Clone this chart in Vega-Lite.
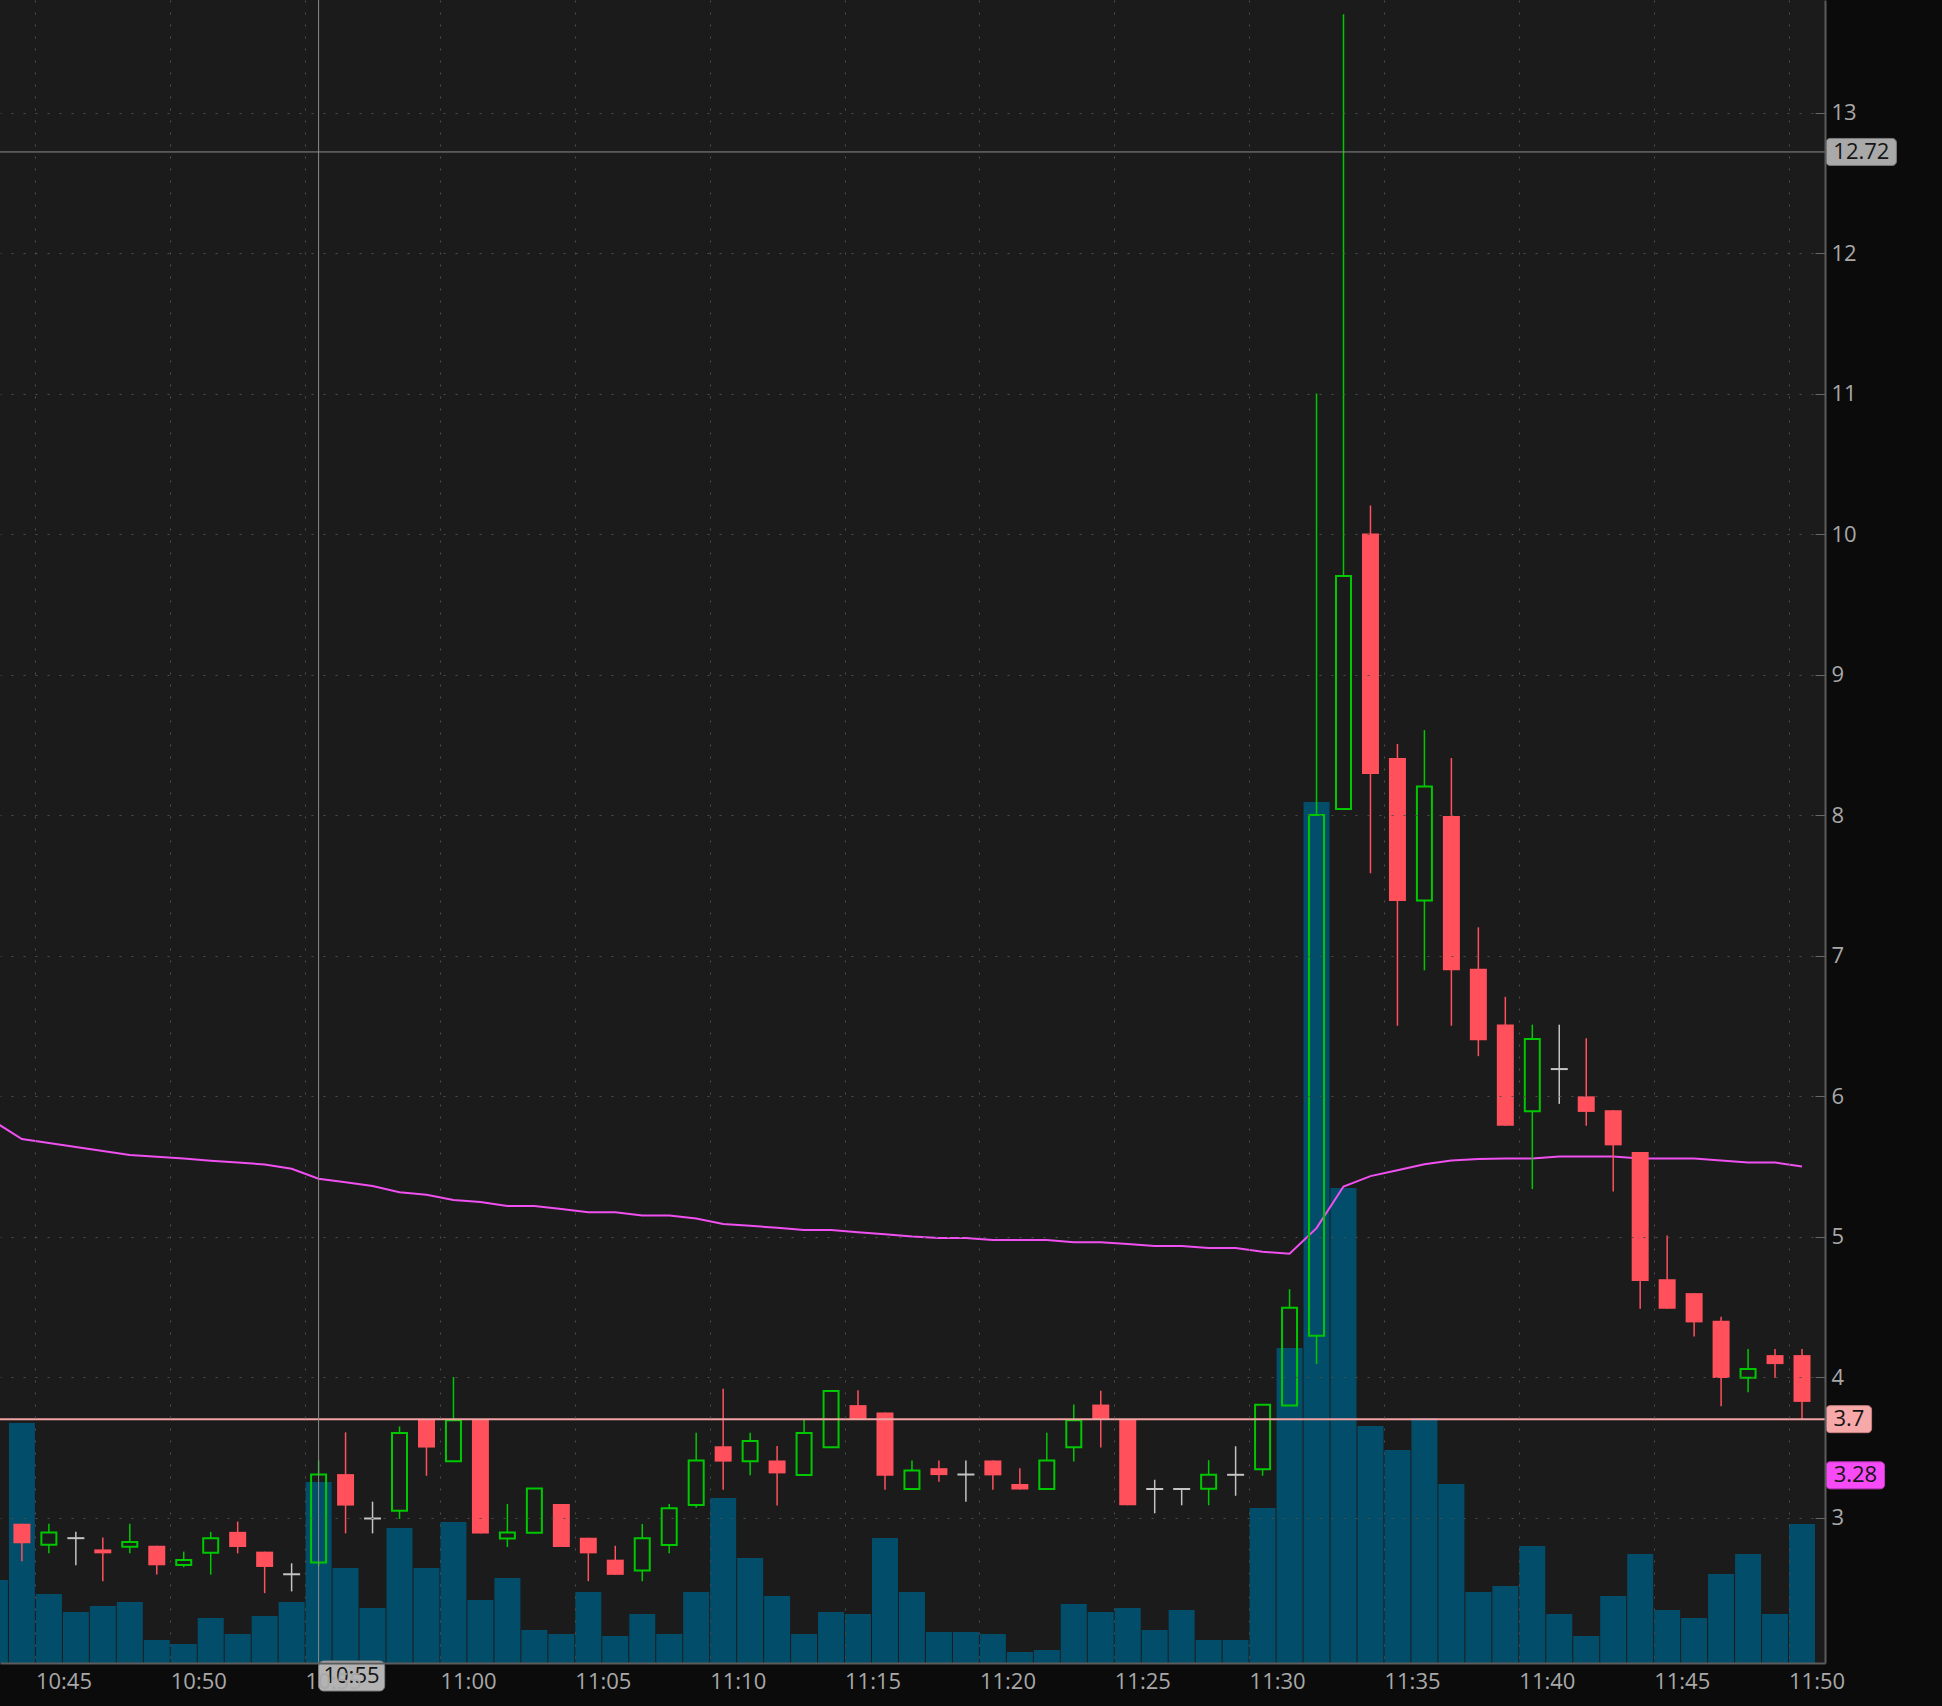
{
  "$schema": "https://vega.github.io/schema/vega-lite/v6.json",
  "width": 1825,
  "height": 1663,
  "autosize": {"type": "none"},
  "padding": {"left": 0, "top": 0, "right": 117, "bottom": 43},
  "background": "#0b0b0b",
  "config": {"view": {"fill": "#1b1b1b", "stroke": null}},
  "datasets": {
    "bars": [
      {"t":43,"vol":83,"vwap":5.815},
      {"t":44,"open":2.955,"high":2.955,"low":2.688,"close":2.816,"vol":240,"vwap":5.694},
      {"t":45,"open":2.806,"high":2.955,"low":2.745,"close":2.894,"vol":69,"vwap":5.666},
      {"t":46,"open":2.853,"high":2.898,"low":2.66,"close":2.853,"vol":51,"vwap":5.637},
      {"t":47,"open":2.773,"high":2.858,"low":2.547,"close":2.745,"vol":57,"vwap":5.609},
      {"t":48,"open":2.792,"high":2.955,"low":2.745,"close":2.825,"vol":61,"vwap":5.581},
      {"t":49,"open":2.799,"high":2.799,"low":2.594,"close":2.66,"vol":23,"vwap":5.568},
      {"t":50,"open":2.662,"high":2.757,"low":2.646,"close":2.698,"vol":19,"vwap":5.555},
      {"t":51,"open":2.75,"high":2.898,"low":2.594,"close":2.853,"vol":45,"vwap":5.539},
      {"t":52,"open":2.898,"high":2.971,"low":2.745,"close":2.79,"vol":29,"vwap":5.527},
      {"t":53,"open":2.757,"high":2.757,"low":2.462,"close":2.648,"vol":47,"vwap":5.513},
      {"t":54,"open":2.596,"high":2.674,"low":2.474,"close":2.596,"vol":61,"vwap":5.482},
      {"t":55,"open":2.679,"high":3.406,"low":2.655,"close":3.306,"vol":181,"vwap":5.412},
      {"t":56,"open":3.309,"high":3.606,"low":2.887,"close":3.085,"vol":95,"vwap":5.387},
      {"t":57,"open":2.993,"high":3.113,"low":2.887,"close":2.993,"vol":55,"vwap":5.359},
      {"t":58,"open":3.049,"high":3.648,"low":2.99,"close":3.601,"vol":135,"vwap":5.316},
      {"t":59,"open":3.698,"high":3.7,"low":3.297,"close":3.498,"vol":95,"vwap":5.297},
      {"t":60,"open":3.4,"high":4.0,"low":3.4,"close":3.693,"vol":141,"vwap":5.26},
      {"t":61,"open":3.7,"high":3.7,"low":2.887,"close":2.887,"vol":63,"vwap":5.245},
      {"t":62,"open":2.851,"high":3.096,"low":2.79,"close":2.894,"vol":85,"vwap":5.217},
      {"t":63,"open":2.891,"high":3.207,"low":2.891,"close":3.207,"vol":33,"vwap":5.217},
      {"t":64,"open":3.096,"high":3.096,"low":2.79,"close":2.79,"vol":29,"vwap":5.196},
      {"t":65,"open":2.856,"high":2.856,"low":2.547,"close":2.745,"vol":71,"vwap":5.173},
      {"t":66,"open":2.7,"high":2.799,"low":2.592,"close":2.592,"vol":27,"vwap":5.173},
      {"t":67,"open":2.622,"high":2.953,"low":2.547,"close":2.853,"vol":49,"vwap":5.149},
      {"t":68,"open":2.804,"high":3.096,"low":2.745,"close":3.066,"vol":29,"vwap":5.149},
      {"t":69,"open":3.089,"high":3.604,"low":3.071,"close":3.406,"vol":71,"vwap":5.128},
      {"t":70,"open":3.507,"high":3.917,"low":3.198,"close":3.398,"vol":165,"vwap":5.09},
      {"t":71,"open":3.401,"high":3.604,"low":3.3,"close":3.545,"vol":105,"vwap":5.076},
      {"t":72,"open":3.406,"high":3.509,"low":3.085,"close":3.314,"vol":67,"vwap":5.062},
      {"t":73,"open":3.302,"high":3.7,"low":3.302,"close":3.601,"vol":29,"vwap":5.047},
      {"t":74,"open":3.5,"high":3.901,"low":3.5,"close":3.901,"vol":51,"vwap":5.047},
      {"t":75,"open":3.8,"high":3.906,"low":3.698,"close":3.698,"vol":49,"vwap":5.031},
      {"t":76,"open":3.748,"high":3.748,"low":3.198,"close":3.297,"vol":125,"vwap":5.016},
      {"t":77,"open":3.203,"high":3.406,"low":3.203,"close":3.335,"vol":71,"vwap":5.0},
      {"t":78,"open":3.351,"high":3.406,"low":3.255,"close":3.302,"vol":31,"vwap":4.989},
      {"t":79,"open":3.306,"high":3.406,"low":3.113,"close":3.306,"vol":31,"vwap":4.989},
      {"t":80,"open":3.406,"high":3.406,"low":3.198,"close":3.3,"vol":29,"vwap":4.975},
      {"t":81,"open":3.238,"high":3.351,"low":3.2,"close":3.2,"vol":11,"vwap":4.975},
      {"t":82,"open":3.203,"high":3.604,"low":3.203,"close":3.406,"vol":13,"vwap":4.975},
      {"t":83,"open":3.5,"high":3.804,"low":3.398,"close":3.693,"vol":59,"vwap":4.96},
      {"t":84,"open":3.804,"high":3.903,"low":3.498,"close":3.698,"vol":51,"vwap":4.96},
      {"t":85,"open":3.698,"high":3.698,"low":3.087,"close":3.087,"vol":55,"vwap":4.946},
      {"t":86,"open":3.203,"high":3.269,"low":3.03,"close":3.203,"vol":33,"vwap":4.932},
      {"t":87,"open":3.203,"high":3.203,"low":3.087,"close":3.203,"vol":53,"vwap":4.932},
      {"t":88,"open":3.205,"high":3.408,"low":3.087,"close":3.304,"vol":23,"vwap":4.918},
      {"t":89,"open":3.304,"high":3.507,"low":3.155,"close":3.304,"vol":23,"vwap":4.918},
      {"t":90,"open":3.344,"high":3.802,"low":3.297,"close":3.802,"vol":155,"vwap":4.892},
      {"t":91,"open":3.797,"high":4.625,"low":3.797,"close":4.493,"vol":315,"vwap":4.878},
      {"t":92,"open":4.293,"high":11.0,"low":4.092,"close":8.0,"vol":861,"vwap":5.06},
      {"t":93,"open":8.043,"high":13.7,"low":8.043,"close":9.702,"vol":475,"vwap":5.356},
      {"t":94,"open":10.004,"high":10.204,"low":7.586,"close":8.293,"vol":237,"vwap":5.43},
      {"t":95,"open":8.407,"high":8.506,"low":6.5,"close":7.388,"vol":213,"vwap":5.472},
      {"t":96,"open":7.392,"high":8.605,"low":6.895,"close":8.204,"vol":245,"vwap":5.515},
      {"t":97,"open":7.994,"high":8.407,"low":6.5,"close":6.895,"vol":179,"vwap":5.541},
      {"t":98,"open":6.906,"high":7.201,"low":6.284,"close":6.397,"vol":71,"vwap":5.552},
      {"t":99,"open":6.51,"high":6.706,"low":5.788,"close":5.788,"vol":77,"vwap":5.555},
      {"t":100,"open":5.892,"high":6.508,"low":5.338,"close":6.406,"vol":117,"vwap":5.555},
      {"t":101,"open":6.192,"high":6.508,"low":5.944,"close":6.192,"vol":49,"vwap":5.569},
      {"t":102,"open":5.998,"high":6.411,"low":5.788,"close":5.887,"vol":27,"vwap":5.569},
      {"t":103,"open":5.899,"high":5.899,"low":5.321,"close":5.649,"vol":67,"vwap":5.569},
      {"t":104,"open":5.602,"high":5.602,"low":4.486,"close":4.684,"vol":109,"vwap":5.555},
      {"t":105,"open":4.696,"high":5.007,"low":4.486,"close":4.486,"vol":53,"vwap":5.555},
      {"t":106,"open":4.597,"high":4.597,"low":4.288,"close":4.389,"vol":45,"vwap":5.555},
      {"t":107,"open":4.401,"high":4.429,"low":3.792,"close":3.993,"vol":89,"vwap":5.541},
      {"t":108,"open":3.995,"high":4.2,"low":3.891,"close":4.057,"vol":109,"vwap":5.527},
      {"t":109,"open":4.156,"high":4.2,"low":3.993,"close":4.092,"vol":49,"vwap":5.527},
      {"t":110,"open":4.156,"high":4.2,"low":3.698,"close":3.823,"vol":139,"vwap":5.498}
    ]
  },
  "data": {"name": "bars"},
  "resolve": {"scale": {"y": "independent"}},
  "layer": [
    {
      "mark": {"type": "bar", "width": 26, "color": "#024e6a", "clip": true},
      "encoding": {
        "x": {
          "field": "t", "type": "quantitative",
          "scale": {"domain": [43.373, 110.667], "nice": false, "zero": false},
          "axis": {
            "values": [44.5,49.5,54.5,59.5,64.5,69.5,74.5,79.5,84.5,89.5,94.5,99.5,104.5,109.5],
            "title": null, "grid": true, "gridDash": [2, 10], "gridColor": "#4e4e4e", "gridWidth": 1,
            "domain": true, "domainColor": "#5c5c5c", "domainWidth": 2, "ticks": false,
            "labelExpr": "(10 + floor((datum.value + 0.5) / 60)) + ':' + (((datum.value + 0.5) % 60) < 10 ? '0' : '') + ((datum.value + 0.5) % 60)",
            "labelAlign": "left", "labelBaseline": "top", "labelPadding": 8,
            "labelFont": "Open Sans", "labelFontSize": 22, "labelColor": "#a8a8a8",
            "labelFlush": false, "labelOverlap": false, "labelBound": false, "zindex": 1
          }
        },
        "y": {"field": "vol", "type": "quantitative", "scale": {"domain": [0, 1663], "nice": false, "zero": true}, "axis": null}
      }
    },
    {
      "layer": [
        {
          "mark": {"type": "line", "color": "#f050f0", "strokeWidth": 2, "clip": true},
          "encoding": {
            "x": {"field": "t", "type": "quantitative", "scale": {"domain": [43.373, 110.667], "nice": false, "zero": false}, "title": null},
            "y": {
              "field": "vwap", "type": "quantitative",
              "scale": {"domain": [2, 13.766], "nice": false, "zero": false},
              "axis": {
                "orient": "right", "values": [3,4,5,6,7,8,9,10,11,12,13], "format": "d", "title": null,
                "grid": true, "gridDash": [2, 10], "gridColor": "#4e4e4e", "gridWidth": 1,
                "domain": true, "domainColor": "#5c5c5c", "domainWidth": 2,
                "ticks": true, "tickSize": -10, "tickColor": "#666666", "tickWidth": 1,
                "labelPadding": 16, "labelAlign": "left", "labelBaseline": "middle",
                "labelFont": "Open Sans", "labelFontSize": 22, "labelColor": "#a8a8a8", "zindex": 1
              }
            }
          }
        },
        {
          "transform": [{"filter": "datum.close < datum.open"}],
          "mark": {"type": "rule", "color": "#ff505c", "strokeWidth": 1.5},
          "encoding": {
            "x": {"field": "t", "type": "quantitative", "scale": {"domain": [43.373, 110.667], "nice": false, "zero": false}},
            "y": {"field": "high", "type": "quantitative", "scale": {"domain": [2, 13.766], "nice": false, "zero": false}},
            "y2": {"field": "low"}
          }
        },
        {
          "transform": [{"filter": "datum.close > datum.open"}],
          "mark": {"type": "rule", "color": "#00c800", "strokeWidth": 1.5},
          "encoding": {
            "x": {"field": "t", "type": "quantitative", "scale": {"domain": [43.373, 110.667], "nice": false, "zero": false}},
            "y": {"field": "high", "type": "quantitative", "scale": {"domain": [2, 13.766], "nice": false, "zero": false}},
            "y2": {"field": "close"}
          }
        },
        {
          "transform": [{"filter": "datum.close > datum.open"}],
          "mark": {"type": "rule", "color": "#00c800", "strokeWidth": 1.5},
          "encoding": {
            "x": {"field": "t", "type": "quantitative", "scale": {"domain": [43.373, 110.667], "nice": false, "zero": false}},
            "y": {"field": "open", "type": "quantitative", "scale": {"domain": [2, 13.766], "nice": false, "zero": false}},
            "y2": {"field": "low"}
          }
        },
        {
          "transform": [{"filter": "isValid(datum.open) && datum.close == datum.open"}],
          "mark": {"type": "rule", "color": "#c4c4c4", "strokeWidth": 1.5},
          "encoding": {
            "x": {"field": "t", "type": "quantitative", "scale": {"domain": [43.373, 110.667], "nice": false, "zero": false}},
            "y": {"field": "high", "type": "quantitative", "scale": {"domain": [2, 13.766], "nice": false, "zero": false}},
            "y2": {"field": "low"}
          }
        },
        {
          "transform": [{"filter": "isValid(datum.open) && datum.close == datum.open"}],
          "mark": {"type": "tick", "orient": "horizontal", "size": 17, "thickness": 2, "color": "#c4c4c4", "opacity": 1},
          "encoding": {
            "x": {"field": "t", "type": "quantitative", "scale": {"domain": [43.373, 110.667], "nice": false, "zero": false}},
            "y": {"field": "open", "type": "quantitative", "scale": {"domain": [2, 13.766], "nice": false, "zero": false}}
          }
        },
        {
          "transform": [{"filter": "datum.close < datum.open"}],
          "mark": {"type": "bar", "width": 17, "fill": "#ff505c", "stroke": null},
          "encoding": {
            "x": {"field": "t", "type": "quantitative", "scale": {"domain": [43.373, 110.667], "nice": false, "zero": false}},
            "y": {"field": "open", "type": "quantitative", "scale": {"domain": [2, 13.766], "nice": false, "zero": false}},
            "y2": {"field": "close"}
          }
        },
        {
          "transform": [{"filter": "datum.close > datum.open"}],
          "mark": {"type": "bar", "width": 15, "fill": "#000000", "fillOpacity": 0, "stroke": "#00c800", "strokeWidth": 2},
          "encoding": {
            "x": {"field": "t", "type": "quantitative", "scale": {"domain": [43.373, 110.667], "nice": false, "zero": false}},
            "y": {"field": "open", "type": "quantitative", "scale": {"domain": [2, 13.766], "nice": false, "zero": false}},
            "y2": {"field": "close"}
          }
        },
        {
          "data": {"values": [{"p": 3.7}]},
          "mark": {"type": "rule", "color": "#f2a3a3", "strokeWidth": 2},
          "encoding": {
            "y": {"field": "p", "type": "quantitative", "scale": {"domain": [2, 13.766], "nice": false, "zero": false}}
          }
        },
        {
          "data": {"values": [{"p": 12.72}]},
          "mark": {"type": "rule", "color": "#8c8c8c", "strokeWidth": 1},
          "encoding": {
            "y": {"field": "p", "type": "quantitative", "scale": {"domain": [2, 13.766], "nice": false, "zero": false}}
          }
        },
        {
          "data": {"values": [{"t": 55}]},
          "mark": {"type": "rule", "color": "#8c8c8c", "strokeWidth": 1},
          "encoding": {
            "x": {"field": "t", "type": "quantitative", "scale": {"domain": [43.373, 110.667], "nice": false, "zero": false}}
          }
        },
        {
          "data": {"values": [{"label": "12.72", "p": 12.72}]},
          "layer": [
            {
              "mark": {"type": "bar", "height": 27, "cornerRadius": 4, "color": "#a9a9a9", "stroke": "#7a7a7a", "strokeWidth": 1},
              "encoding": {
                "x": {"datum": 110.89, "type": "quantitative", "scale": {"domain": [43.373, 110.667], "nice": false, "zero": false}},
                "x2": {"datum": 113.5},
                "y": {"field": "p", "type": "quantitative", "scale": {"domain": [2, 13.766], "nice": false, "zero": false}}
              }
            },
            {
              "mark": {"type": "text", "font": "Open Sans", "fontSize": 22, "color": "#151515"},
              "encoding": {
                "x": {"datum": 112.2, "type": "quantitative", "scale": {"domain": [43.373, 110.667], "nice": false, "zero": false}},
                "y": {"field": "p", "type": "quantitative", "scale": {"domain": [2, 13.766], "nice": false, "zero": false}},
                "text": {"field": "label"}
              }
            }
          ]
        },
        {
          "data": {"values": [{"label": "3.7", "p": 3.7}]},
          "layer": [
            {
              "mark": {"type": "bar", "height": 27, "cornerRadius": 4, "color": "#f7a8a8", "stroke": "#c88080", "strokeWidth": 1},
              "encoding": {
                "x": {"datum": 110.89, "type": "quantitative", "scale": {"domain": [43.373, 110.667], "nice": false, "zero": false}},
                "x2": {"datum": 112.58},
                "y": {"field": "p", "type": "quantitative", "scale": {"domain": [2, 13.766], "nice": false, "zero": false}}
              }
            },
            {
              "mark": {"type": "text", "font": "Open Sans", "fontSize": 22, "color": "#151515"},
              "encoding": {
                "x": {"datum": 111.74, "type": "quantitative", "scale": {"domain": [43.373, 110.667], "nice": false, "zero": false}},
                "y": {"field": "p", "type": "quantitative", "scale": {"domain": [2, 13.766], "nice": false, "zero": false}},
                "text": {"field": "label"}
              }
            }
          ]
        },
        {
          "data": {"values": [{"label": "3.28", "p": 3.3}]},
          "layer": [
            {
              "mark": {"type": "bar", "height": 27, "cornerRadius": 4, "color": "#f64bf6", "stroke": "#c038c0", "strokeWidth": 1},
              "encoding": {
                "x": {"datum": 110.89, "type": "quantitative", "scale": {"domain": [43.373, 110.667], "nice": false, "zero": false}},
                "x2": {"datum": 113.06},
                "y": {"field": "p", "type": "quantitative", "scale": {"domain": [2, 13.766], "nice": false, "zero": false}}
              }
            },
            {
              "mark": {"type": "text", "font": "Open Sans", "fontSize": 22, "color": "#151515"},
              "encoding": {
                "x": {"datum": 111.98, "type": "quantitative", "scale": {"domain": [43.373, 110.667], "nice": false, "zero": false}},
                "y": {"field": "p", "type": "quantitative", "scale": {"domain": [2, 13.766], "nice": false, "zero": false}},
                "text": {"field": "label"}
              }
            }
          ]
        },
        {
          "data": {"values": [{"label": "10:55", "t": 55, "p": 1.872}]},
          "layer": [
            {
              "mark": {"type": "bar", "height": 30, "cornerRadius": 5, "color": "#b3b3b3", "stroke": "#808080", "strokeWidth": 1},
              "encoding": {
                "x": {"field": "t", "type": "quantitative", "scale": {"domain": [43.373, 110.667], "nice": false, "zero": false}},
                "x2": {"datum": 57.45},
                "y": {"field": "p", "type": "quantitative", "scale": {"domain": [2, 13.766], "nice": false, "zero": false}}
              }
            },
            {
              "mark": {"type": "text", "font": "Open Sans", "fontSize": 22, "color": "#151515"},
              "encoding": {
                "x": {"datum": 56.22, "type": "quantitative", "scale": {"domain": [43.373, 110.667], "nice": false, "zero": false}},
                "y": {"field": "p", "type": "quantitative", "scale": {"domain": [2, 13.766], "nice": false, "zero": false}},
                "text": {"field": "label"}
              }
            }
          ]
        }
      ]
    }
  ]
}
